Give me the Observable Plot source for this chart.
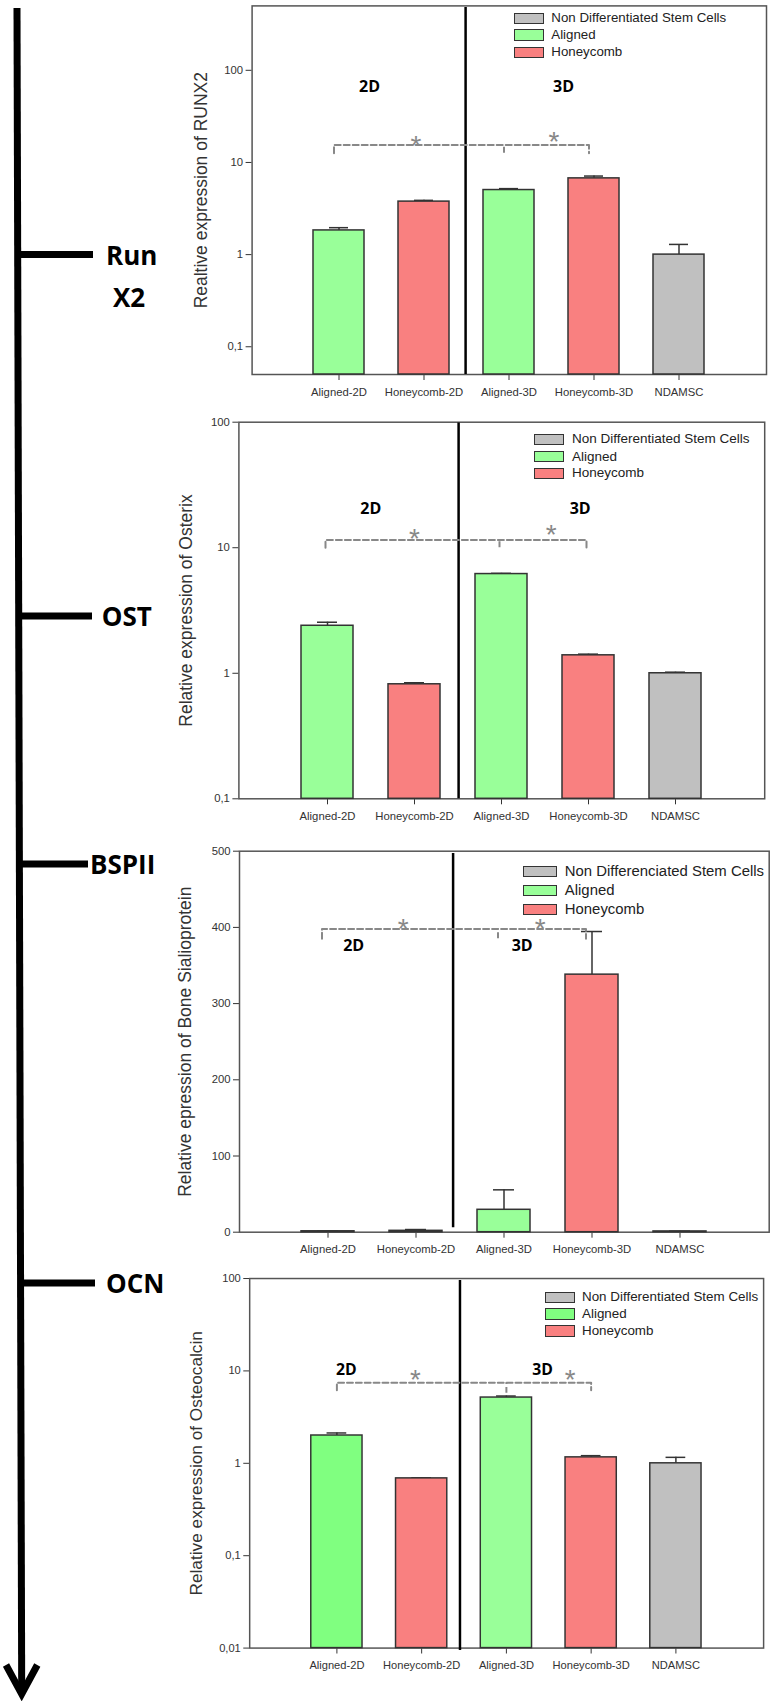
<!DOCTYPE html>
<html>
<head>
<meta charset="utf-8">
<script src="https://cdn.jsdelivr.net/npm/d3@7"></script>
<script src="https://cdn.jsdelivr.net/npm/@observablehq/plot@0.6"></script>
<style>
  html, body { margin: 0; padding: 0; background: #fff; }
  body { width: 771px; height: 1701px; position: relative; overflow: hidden; font-family: "Liberation Sans", Arial, sans-serif; }
  .panel { position: absolute; }
  .panel svg { overflow: visible; }
  .lg-box { position: absolute; border: 1.5px solid #333; box-sizing: border-box; }
  .lg-txt { position: absolute; color: #222; white-space: nowrap; line-height: 1; transform: translateY(-50%); }
  .side { position: absolute; font-family: "Open Sans", sans-serif; font-weight: 700; font-size: 26px; color: #000; line-height: 1; }
</style>
</head>
<body>
<svg id="timeline" width="771" height="1701" style="position:absolute;left:0;top:0">
</svg>
<div id="p1" class="panel" style="left:160px;top:0px"></div>
<div id="p2" class="panel" style="left:160px;top:400px"></div>
<div id="p3" class="panel" style="left:160px;top:830px"></div>
<div id="p4" class="panel" style="left:160px;top:1260px"></div>
<script>
// ---------------- data ----------------
const categories = ["Aligned-2D", "Honeycomb-2D", "Aligned-3D", "Honeycomb-3D", "NDAMSC"];
const groups = ["Aligned", "Honeycomb", "Aligned", "Honeycomb", "Non Differentiated Stem Cells"];

const runx2Values = [1.83, 3.76, 5.02, 6.72, 1.0];
const runx2ErrTop = [1.96, 3.88, 5.2, 7.12, 1.29];

const osterixValues = [2.39, 0.817, 6.17, 1.39, 1.0];
const osterixErrTop = [2.55, 0.84, 6.25, 1.42, 1.02];

const bspValues = [1.2, 1.8, 29.4, 338, 1.0];
const bspErrTop = [1.4, 3.5, 55.6, 394.6, 1.3];

const ocnValues = [2.0, 0.687, 5.15, 1.16, 1.0];
const ocnErrTop = [2.13, 0.697, 5.35, 1.21, 1.16];

const legendLabels = ["Non Differentiated Stem Cells", "Aligned", "Honeycomb"];
const legendLabelsBsp = ["Non Differenciated Stem Cells", "Aligned", "Honeycomb"];

const yLabels = [
  "Realtive expression of RUNX2",
  "Relative expression of Osterix",
  "Relative epression of Bone Sialioprotein",
  "Relative expression of Osteocalcin"
];
const markers = ["Run\nX2", "OST", "BSPII", "OCN"];

const logTicks3 = [0.1, 1, 10, 100];
const logTicks4 = [0.01, 0.1, 1, 10, 100];
const linTicks = [0, 100, 200, 300, 400, 500];

// colours
const colorOf = {"Aligned": "#99FF99", "Honeycomb": "#F98080", "Non Differentiated Stem Cells": "#C0C0C0"};

// ---------------- helpers ----------------
const fmtComma = d => String(d).replace(".", ",");

function rows(values, tops, fills) {
  return categories.map((c, i) => ({cat: c, value: values[i], top: tops[i], fill: fills ? fills[i] : colorOf[groups[i]]}));
}

function makePanel(cfg) {
  const data = rows(cfg.values, cfg.tops, cfg.fills);
  const b = cfg.bracket;
  const bracketPts = [
    {x: b.left, y: b.bottom}, {x: b.left, y: b.top},
    {x: b.right, y: b.top}, {x: b.right, y: b.bottom}
  ];
  const dash = {stroke: "#888", strokeWidth: 2, strokeDasharray: "6,3"};
  const marks = [
    Plot.frame({stroke: "#555", strokeWidth: 1.5}),
    Plot.ruleX(data, {x: "cat", y1: "value", y2: "top", stroke: "#333", strokeWidth: 1.5}),
    Plot.tickY(data, {x: "cat", y: "top", insetLeft: 16, insetRight: 16, stroke: "#333", strokeWidth: 1.5}),
    Plot.barY(data, {x: "cat", y1: cfg.yDomain[0], y2: "value", fill: "fill", stroke: "#333", strokeWidth: 1.5}),
    Plot.ruleX(["Honeycomb-2D"], {x: d => d, y1: cfg.divider[0], y2: cfg.divider[1], dx: cfg.dividerDx, stroke: "#000", strokeWidth: 2.5}),
    Plot.line(bracketPts, {x: "x", y: "y", dx: b.dx, ...dash}),
    Plot.ruleX([b.mid], {x: d => d, y1: b.midBottom ?? b.bottom, y2: b.top, dx: b.dx, ...dash}),
    Plot.text([cfg.yLabel], {text: d => d, frameAnchor: "left", textAnchor: "middle", lineAnchor: "middle", rotate: -90, dx: -cfg.labelOffset, fontSize: 17.5, fill: "#333", fontFamily: "Liberation Sans, Arial, sans-serif"})
  ];
  for (const t of cfg.dims) {
    marks.push(Plot.text([t], {x: "x", y: "y", text: "t", dx: t.dx, fontSize: 16, fontWeight: 700, fill: "#000", fontFamily: "Open Sans, Lato, sans-serif"}));
  }
  for (const s of cfg.stars) {
    marks.push(Plot.text([s], {x: "x", y: "y", text: () => "*", dx: s.dx, fontSize: 28, fill: "#888", fontFamily: "Liberation Sans, Arial, sans-serif"}));
  }
  return Plot.plot({
    width: cfg.width,
    height: cfg.height,
    marginTop: cfg.mt, marginBottom: cfg.mb, marginLeft: cfg.ml, marginRight: cfg.mr,
    style: {fontFamily: "Liberation Sans, Arial, sans-serif", fontSize: "11.3px", color: "#333", background: "transparent", overflow: "visible"},
    x: {domain: categories, paddingInner: 0.4, paddingOuter: 0.7, label: null, tickSize: 6, tickPadding: 7},
    y: {type: cfg.yType, domain: cfg.yDomain, ticks: cfg.yTicks, tickFormat: fmtComma, label: null, tickSize: 6, tickPadding: 3},
    marks
  });
}

function addLegend(labels, L) {
  const colors = ["#C0C0C0", L.green || "#99FF99", "#F98080"];
  labels.forEach((lab, i) => {
    const y = L.rows[i];
    const box = document.createElement("div");
    box.className = "lg-box";
    Object.assign(box.style, {left: L.boxX + "px", top: (y - L.boxH / 2) + "px", width: L.boxW + "px", height: L.boxH + "px", background: colors[i]});
    document.body.appendChild(box);
    const t = document.createElement("div");
    t.className = "lg-txt";
    t.textContent = lab;
    Object.assign(t.style, {left: L.textX + "px", top: y + "px", fontSize: L.fs + "px"});
    document.body.appendChild(t);
  });
}

// ---------------- panels ----------------
const p1 = makePanel({
  width: 611, height: 400, mt: 5.4, mb: 26, ml: 91.6, mr: 5,
  yType: "log", yDomain: [0.05, 500], yTicks: logTicks3,
  values: runx2Values, tops: runx2ErrTop,
  yLabel: yLabels[0], labelOffset: 51,
  divider: [0.05, 481], dividerDx: 41.6,
  bracket: {left: "Aligned-2D", mid: "Aligned-3D", right: "Honeycomb-3D", top: 15.5, bottom: 12.6, dx: -5},
  dims: [{x: "Aligned-2D", y: 66.9, t: "2D", dx: 30.5}, {x: "Aligned-3D", y: 66.9, t: "3D", dx: 54.6}],
  stars: [{x: "Honeycomb-2D", y: 14.9, dx: -8}, {x: "Aligned-3D", y: 16.7, dx: 45}]
});
document.getElementById("p1").appendChild(p1);

const p2 = makePanel({
  width: 611, height: 430, mt: 21.7, mb: 31.7, ml: 78.4, mr: 6.8,
  yType: "log", yDomain: [0.1, 100], yTicks: logTicks3,
  values: osterixValues, tops: osterixErrTop,
  yLabel: yLabels[1], labelOffset: 52.7,
  divider: [0.1, 98.4], dividerDx: 44.1,
  bracket: {left: "Aligned-2D", mid: "Aligned-3D", right: "Honeycomb-3D", top: 11.5, bottom: 10.0, dx: -2},
  dims: [{x: "Aligned-2D", y: 20.3, t: "2D", dx: 43.3}, {x: "Honeycomb-3D", y: 20.3, t: "3D", dx: -8.3}],
  stars: [{x: "Honeycomb-2D", y: 11.8, dx: 0}, {x: "Honeycomb-3D", y: 12.55, dx: -37.3}]
});
document.getElementById("p2").appendChild(p2);

const p3 = makePanel({
  width: 611, height: 430, mt: 20.7, mb: 28.3, ml: 79, mr: 2.3,
  yType: "linear", yDomain: [0, 500], yTicks: linTicks,
  values: bspValues, tops: bspErrTop,
  yLabel: yLabels[2], labelOffset: 53.7,
  divider: [5.8, 497], dividerDx: 37.1,
  bracket: {left: "Aligned-2D", mid: "Aligned-3D", right: "Honeycomb-3D", top: 398, bottom: 385, dx: -6},
  dims: [{x: "Aligned-2D", y: 376, t: "2D", dx: 25.7}, {x: "Aligned-3D", y: 376, t: "3D", dx: 18.2}],
  stars: [{x: "Honeycomb-2D", y: 397.6, dx: -12.7}, {x: "Aligned-3D", y: 397.6, dx: 36.3}]
});
document.getElementById("p3").appendChild(p3);

const p4 = makePanel({
  width: 620, height: 424, mt: 18.3, mb: 30.7, ml: 90.5, mr: 8,
  yType: "log", yDomain: [0.01, 100], yTicks: logTicks4,
  values: ocnValues, tops: ocnErrTop,
  fills: ["#80FF80", "#F98080", "#99FF99", "#F98080", "#C0C0C0"],
  yLabel: yLabels[3], labelOffset: 54.5,
  divider: [0.0094, 95], dividerDx: 38.9,
  bracket: {left: "Aligned-2D", mid: "Aligned-3D", right: "Honeycomb-3D", top: 7.45, bottom: 6.16, midBottom: 5.72, dx: 0},
  dims: [{x: "Aligned-2D", y: 10.3, t: "2D", dx: 9.5}, {x: "Aligned-3D", y: 10.3, t: "3D", dx: 36.8}],
  stars: [{x: "Honeycomb-2D", y: 7.88, dx: -6.3}, {x: "Honeycomb-3D", y: 7.88, dx: -21.3}]
});
document.getElementById("p4").appendChild(p4);

// ---------------- legends (inside each frame) ----------------
addLegend(legendLabels, {boxX: 513.6, boxW: 30, boxH: 11.5, textX: 551.3, fs: 13.3, rows: [18.3, 35, 52.3]});
addLegend(legendLabels, {boxX: 534.3, boxW: 30, boxH: 11.5, textX: 572, fs: 13.5, rows: [439.3, 456.7, 473.3]});
addLegend(legendLabelsBsp, {boxX: 522.6, boxW: 34, boxH: 11, textX: 564.8, fs: 14.9, rows: [871, 890.3, 909.3]});
addLegend(legendLabels, {boxX: 544.9, boxW: 30, boxH: 11.5, textX: 582, fs: 13.4, rows: [1297.3, 1314, 1331], green: "#80FF80"});

// ---------------- timeline on the left ----------------
const tl = d3.select("#timeline");
tl.append("line").attr("x1", 17).attr("y1", 8).attr("x2", 21.7).attr("y2", 1692)
  .attr("stroke", "#000").attr("stroke-width", 7);
tl.append("polyline").attr("points", "6,1665 21.7,1694 37.3,1665")
  .attr("fill", "none").attr("stroke", "#000").attr("stroke-width", 7).attr("stroke-linejoin", "miter");
const branchY = [254.5, 616, 864, 1283];
const branchEnd = [93, 92, 88, 95];
branchY.forEach((y, i) => {
  const x0 = 17 + (y - 8) / (1692 - 8) * 4.7;
  tl.append("line").attr("x1", x0).attr("y1", y).attr("x2", branchEnd[i]).attr("y2", y)
    .attr("stroke", "#000").attr("stroke-width", 7);
});
const markerPos = [[106, 255], [101.7, 616], [90, 864], [106, 1283]];
markers.forEach((m, i) => {
  const lines = m.split("\n");
  lines.forEach((ln, j) => {
    const d = document.createElement("div");
    d.className = "side";
    d.textContent = ln;
    const [x, y] = markerPos[i];
    Object.assign(d.style, {left: (x + (j ? 7 : 0)) + "px", top: (y + j * 42) + "px", transform: "translateY(-50%)"});
    document.body.appendChild(d);
  });
});
</script>
</body>
</html>
